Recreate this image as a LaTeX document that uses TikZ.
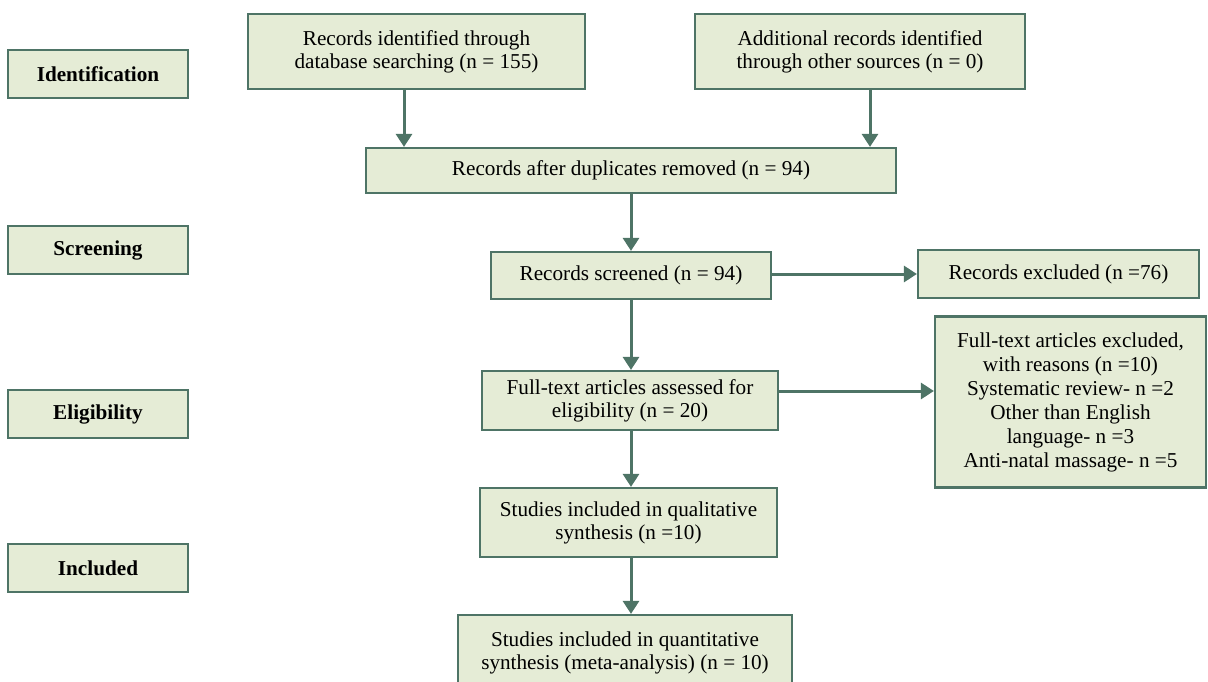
\documentclass[tikz,border=0pt]{standalone}
\usepackage{fontspec}
\setmainfont{Liberation Serif}
\usetikzlibrary{arrows.meta}
\definecolor{boxfill}{HTML}{E5ECD6}
\definecolor{boxline}{HTML}{4E7466}
\tikzset{
  bx/.style={draw=boxline, line width=2.2pt, fill=boxfill, inner sep=0pt, align=center,
    font=\fontsize{21.2}{23}\selectfont},
  stage/.style={bx, minimum width=180pt, minimum height=48pt, font=\fontsize{21.2}{23}\selectfont\bfseries},
  arr/.style={draw=boxline, line width=3pt, -{Triangle[width=16pt,length=13pt]}}
}
\begin{document}
\begin{tikzpicture}[x=1pt,y=-1pt]
\useasboundingbox (0,0) rectangle (1208,682);
\clip (0,0) rectangle (1208,682);
\node[stage] (id) at (98,74) {Identification};
\node[stage] (scr) at (98,250) {Screening};
\node[stage] (elig) at (98,414) {Eligibility};
\node[stage] (incl) at (98,568) {Included};

\node[bx, minimum width=337pt, minimum height=75pt] (rec) at (416.5,51.5) {Records identified through\\database searching (n = 155)};
\node[bx, minimum width=330pt, minimum height=75pt] (add) at (860,51.5) {Additional records identified\\through other sources (n = 0)};
\node[bx, minimum width=530pt, minimum height=45pt] (dup) at (631,170.5) {Records after duplicates removed (n = 94)};
\node[bx, minimum width=280pt, minimum height=47pt] (scd) at (631,275.5) {Records screened (n = 94)};
\node[bx, minimum width=281pt, minimum height=48pt] (exc) at (1058.5,274) {Records excluded (n =76)};
\node[bx, minimum width=296pt, minimum height=59pt] (full) at (630,400.5) {Full-text articles assessed for\\eligibility (n = 20)};
\node[bx, minimum width=271pt, minimum height=171pt, font=\fontsize{21.2}{24}\selectfont] (fex) at (1070.5,402) {Full-text articles excluded,\\with reasons (n =10)\\Systematic review- n =2\\Other than English\\language- n =3\\Anti-natal massage- n =5};
\node[bx, minimum width=297pt, minimum height=69pt] (qual) at (628.5,522.5) {Studies included in qualitative\\synthesis (n =10)};
\node[bx, minimum width=334pt, minimum height=75pt] (quant) at (625,652.5) {Studies included in quantitative\\synthesis (meta-analysis) (n = 10)};

\coordinate (xa) at (404,0);
\coordinate (xb) at (870,0);
\coordinate (xc) at (631,0);
\coordinate (ya) at (0,274);
\coordinate (yb) at (0,391);

\draw[arr] (rec.south -| xa) -- (dup.north -| xa);
\draw[arr] (add.south -| xb) -- (dup.north -| xb);
\draw[arr] (dup.south -| xc) -- (scd.north -| xc);
\draw[arr] (scd.east |- ya) -- (exc.west |- ya);
\draw[arr] (scd.south -| xc) -- (full.north -| xc);
\draw[arr] (full.east |- yb) -- (fex.west |- yb);
\draw[arr] (full.south -| xc) -- (qual.north -| xc);
\draw[arr] (qual.south -| xc) -- (quant.north -| xc);
\end{tikzpicture}
\end{document}
